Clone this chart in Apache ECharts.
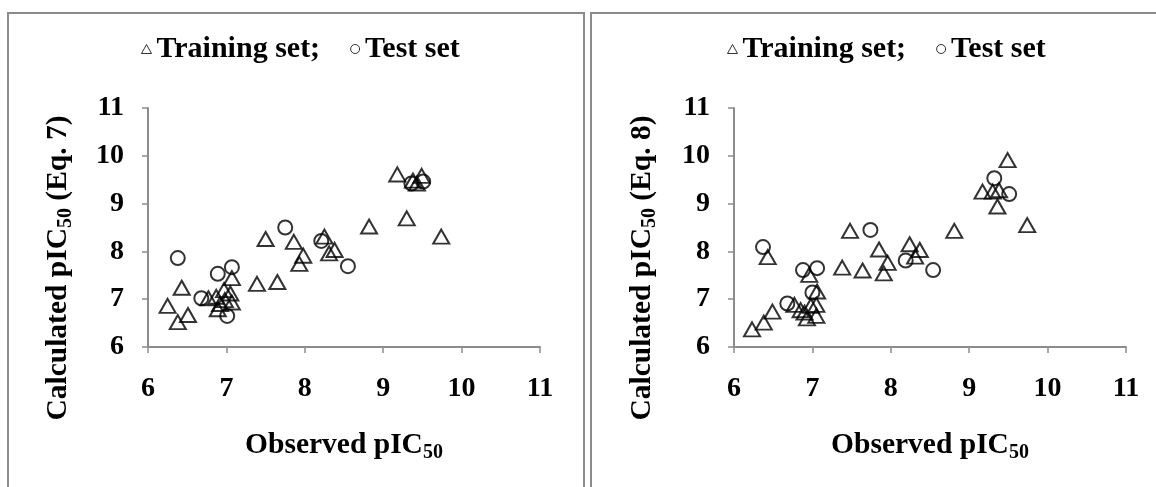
<!DOCTYPE html>
<html>
<head>
<meta charset="utf-8">
<script src="https://cdn.jsdelivr.net/npm/echarts@6/dist/echarts.min.js"></script>
<style>
  html, body { margin: 0; padding: 0; background: #fff; }
  #chart { width: 1156px; height: 487px; }
</style>
</head>
<body>
<div id="chart"></div>
<script>
// Observed vs calculated pIC50, two models (Eq. 7 and Eq. 8)
const axisTicks = [6, 7, 8, 9, 10, 11];

// Eq. 7 model: [observed, calculated]
const eq7Training = [
  [9.18, 9.61], [9.49, 9.58], [9.38, 9.48], [9.43, 9.42], [9.30, 8.69], [9.74, 8.31],
  [8.82, 8.52], [7.50, 8.26], [7.86, 8.20], [8.25, 8.31], [8.38, 8.03], [8.31, 7.96],
  [7.98, 7.91], [7.93, 7.74], [7.65, 7.36], [7.39, 7.32], [6.43, 7.24], [6.25, 6.86],
  [6.38, 6.52], [6.51, 6.67], [7.07, 7.44], [6.97, 7.19], [7.05, 7.12], [6.77, 7.02],
  [6.87, 7.05], [7.07, 6.93], [6.92, 6.90], [6.89, 6.79], [6.98, 6.98]
];
const eq7Test = [
  [6.38, 7.86], [7.75, 8.50], [8.21, 8.22], [8.55, 7.69], [7.07, 7.67],
  [6.89, 7.53], [6.68, 7.02], [7.01, 6.65], [9.36, 9.42], [9.51, 9.46]
];

// Eq. 8 model: [observed, calculated]
const eq8Training = [
  [9.49, 9.91], [9.17, 9.25], [9.30, 9.25], [9.38, 9.28], [9.36, 8.94], [9.74, 8.55],
  [8.81, 8.43], [7.48, 8.43], [7.85, 8.04], [8.24, 8.15], [8.37, 8.03], [8.31, 7.89],
  [7.96, 7.76], [7.91, 7.54], [7.64, 7.60], [7.38, 7.66], [6.43, 7.88], [6.23, 6.37],
  [6.38, 6.51], [6.49, 6.74], [6.96, 7.51], [7.06, 7.16], [7.05, 6.88], [7.05, 6.65],
  [6.93, 6.60], [6.85, 6.77], [6.98, 6.86], [6.77, 6.88], [6.90, 6.72]
];
const eq8Test = [
  [6.37, 8.09], [7.74, 8.45], [8.19, 7.81], [8.54, 7.61], [6.88, 7.61],
  [7.06, 7.65], [7.00, 7.14], [6.68, 6.91], [9.32, 9.53], [9.51, 9.20]
];

const SERIF = '"Liberation Serif", "Times New Roman", serif';
const AXIS_GREY = '#8c8c8c';

function valueAxis(gridIndex) {
  return {
    type: 'value', gridIndex: gridIndex,
    min: axisTicks[0], max: axisTicks[axisTicks.length - 1], interval: 1,
    axisLine: { show: true, onZero: false, lineStyle: { color: AXIS_GREY, width: 2 } },
    axisTick: { show: true, inside: false, length: 6, lineStyle: { color: AXIS_GREY, width: 1.5 } },
    splitLine: { show: false },
    axisLabel: { color: '#000', fontFamily: SERIF, fontWeight: 'bold', fontSize: 28 }
  };
}

function xAxis(gridIndex) {
  const a = valueAxis(gridIndex);
  a.axisLabel.margin = 28;
  return a;
}
function yAxis(gridIndex) {
  const a = valueAxis(gridIndex);
  a.axisLabel.margin = 24;
  return a;
}

const pointStyle = { color: 'rgba(255,255,255,0)', borderColor: '#000', borderWidth: 2 };

function scatter(name, symbol, size, data, idx) {
  return {
    type: 'scatter', name: name, data: data,
    xAxisIndex: idx, yAxisIndex: idx,
    symbol: symbol, symbolSize: size,
    itemStyle: pointStyle,
    emphasis: { disabled: true },
    animation: false
  };
}

const legendText = { color: '#000', fontFamily: SERIF, fontWeight: 'bold', fontSize: 30 };
function legend(left) {
  return {
    left: left, top: 29,
    itemWidth: 10, itemHeight: 9, itemGap: 30,
    data: [
      { name: 'Training set;', icon: 'triangle' },
      { name: 'Test set', icon: 'circle' }
    ],
    itemStyle: { color: '#fff', borderColor: '#000', borderWidth: 1 },
    textStyle: legendText,
    selectedMode: false
  };
}

const titleRich = {
  b: { fontFamily: SERIF, fontWeight: 'bold', fontSize: 29.5, fill: '#000', color: '#000' },
  s: { fontFamily: SERIF, fontWeight: 'bold', fontSize: 20, fill: '#000', color: '#000', padding: [15, 0, 0, 0] }
};

function label(x, y, text, rotate) {
  return {
    type: 'text', x: x, y: y, rotation: rotate ? Math.PI / 2 : 0,
    style: {
      text: text, rich: titleRich,
      align: 'center', verticalAlign: 'middle'
    },
    silent: true
  };
}

const chart = echarts.init(document.getElementById('chart'), null, { renderer: 'canvas' });
chart.setOption({
  backgroundColor: '#fff',
  animation: false,
  legend: [legend(136), legend(722)],
  grid: [
    { left: 148, top: 108, width: 392, height: 239 },
    { left: 734, top: 108, width: 392, height: 239 }
  ],
  xAxis: [xAxis(0), xAxis(1)],
  yAxis: [yAxis(0), yAxis(1)],
  series: [
    scatter('Training set;', 'triangle', [16, 14], eq7Training, 0),
    scatter('Test set', 'circle', 14, eq7Test, 0),
    scatter('Training set;', 'triangle', [16, 14], eq8Training, 1),
    scatter('Test set', 'circle', 14, eq8Test, 1)
  ],
  graphic: [
    { type: 'rect', shape: { x: 8, y: 13, width: 576, height: 520 },
      style: { fill: 'none', stroke: AXIS_GREY, lineWidth: 2 }, silent: true },
    { type: 'rect', shape: { x: 591, y: 13, width: 620, height: 520 },
      style: { fill: 'none', stroke: AXIS_GREY, lineWidth: 2 }, silent: true },
    label(58, 268, '{b|Calculated pIC}{s|50}{b| (Eq. 7)}', true),
    label(642, 268, '{b|Calculated pIC}{s|50}{b| (Eq. 8)}', true),
    label(344, 445, '{b|Observed pIC}{s|50}', false),
    label(930, 445, '{b|Observed pIC}{s|50}', false)
  ]
});
</script>
</body>
</html>
